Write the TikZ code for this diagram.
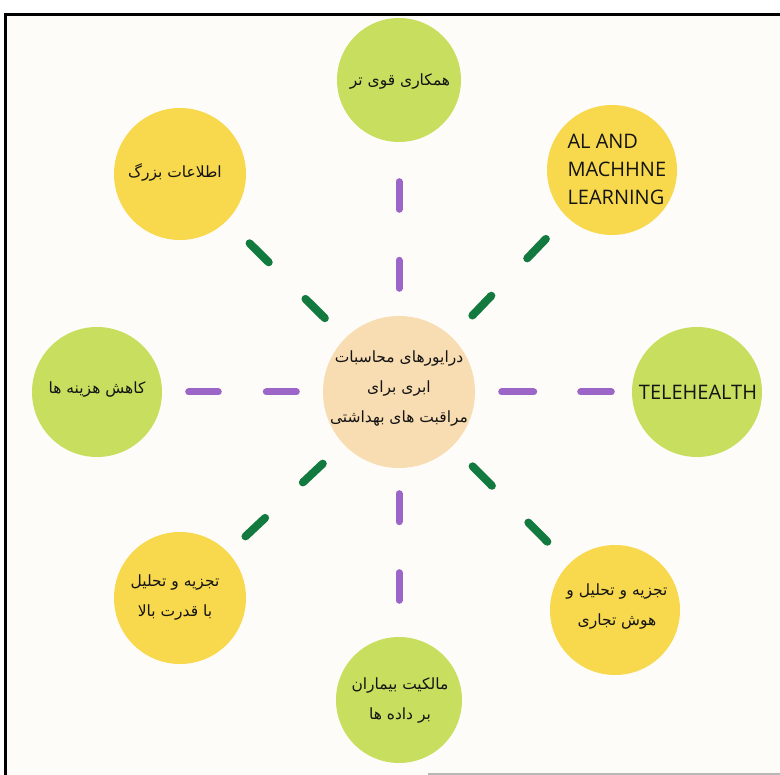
\documentclass[tikz,border=0pt]{standalone}
\usepackage{fontspec}
\newfontfamily\fa[Script=Arabic]{DejaVu Sans}
\newfontfamily\en{Open Sans}
\TeXXeTstate=1
\definecolor{lime}{HTML}{C7DE5E}
\definecolor{gold}{HTML}{F8D84C}
\definecolor{peach}{HTML}{F9DDB2}
\definecolor{dgreen}{HTML}{127A3E}
\definecolor{purp}{HTML}{9C66C9}
\definecolor{bgc}{HTML}{FEFCF9}
\definecolor{ink}{HTML}{141414}
\begin{document}
\begin{tikzpicture}[x=1pt,y=-1pt,
  bub/.style={circle,minimum size=#1,inner sep=0pt,draw=none},
  fatxt/.style={align=center,text=ink,font=\fa\fontsize{15.5}{30}\selectfont},
  entxt/.style={text=ink,font=\en\fontsize{20}{28}\selectfont},
  pdash/.style={draw=purp,line width=7pt,line cap=round},
  gdash/.style={draw=dgreen,line width=8pt,line cap=round}]
\useasboundingbox (0,0) rectangle (780,775);
\clip (0,0) rectangle (780,775);
\fill[white] (0,0) rectangle (780,775);
\fill[bgc] (5.5,14.5) rectangle (790,790);
\draw[black,line width=3pt] (5.5,790) -- (5.5,14.5) -- (790,14.5);
\draw[black!28,line width=1.5pt] (428,774) -- (790,774);

% circles
\node[bub=152,fill=peach] (c) at (399,392) {};
\node[bub=124,fill=lime] (t) at (399,80) {};
\node[bub=132,fill=gold] (tl) at (180,174) {};
\node[bub=130,fill=gold] (tr) at (612,170) {};
\node[bub=130,fill=lime] (l) at (97,392) {};
\node[bub=130,fill=lime] (r) at (697,392) {};
\node[bub=132,fill=gold] (bl) at (180,598) {};
\node[bub=130,fill=gold] (br) at (615,610) {};
\node[bub=126,fill=lime] (b) at (399,700) {};

% connectors
\draw[pdash,dash pattern=on 28pt off 51pt,shorten <=27.5pt,shorten >=39.5pt] (c) -- (t);
\draw[pdash,dash pattern=on 28pt off 51pt,shorten <=25.5pt,shorten >=36.5pt] (c) -- (b);
\draw[pdash,dash pattern=on 30pt off 48pt,shorten <=26.5pt,shorten >=26.5pt] (c) -- (l);
\draw[pdash,dash pattern=on 32pt off 47pt,shorten <=26.5pt,shorten >=20.5pt] (c) -- (r);
\draw[gdash,dash pattern=on 27.4pt off 51.8pt,shorten <=28.4pt,shorten >=32pt] (c) -- (tl);
\draw[gdash,dash pattern=on 27.4pt off 51.8pt,shorten <=29.8pt,shorten >=30.3pt] (c) -- (tr);
\draw[gdash,dash pattern=on 27.4pt off 51.8pt,shorten <=28.4pt,shorten >=23.7pt] (c) -- (bl);
\draw[gdash,dash pattern=on 27.4pt off 51.8pt,shorten <=28.4pt,shorten >=30.9pt] (c) -- (br);

% texts
\node[fatxt] (ct) at (399,389) {\beginR درایورهای محاسبات\endR\\\beginR ابری برای\endR\\\beginR مراقبت های بهداشتی\endR};
\node[fatxt] (tt) at (400,82) {\beginR همکاری قوی تر\endR};
\node[fatxt] (tlt) at (175,172) {\beginR اطلاعات بزرگ\endR};
\node[entxt,align=left,anchor=west] (trt) at (564,169) {AL AND\\MACHHNE\\LEARNING};
\node[fatxt] (lt) at (97,390) {\beginR کاهش هزینه ها\endR};
\node[entxt] (rt) at (698,392) {TELEHEALTH};
\node[fatxt] (blt) at (175,598) {\beginR تجزیه و تحلیل\endR\\\beginR با قدرت بالا\endR};
\node[fatxt] (brt) at (617,607) {\beginR تجزیه و تحلیل و\endR\\\beginR هوش تجاری\endR};
\node[fatxt] (bt) at (400,701) {\beginR مالکیت بیماران\endR\\\beginR بر داده ها\endR};
\end{tikzpicture}
\end{document}
